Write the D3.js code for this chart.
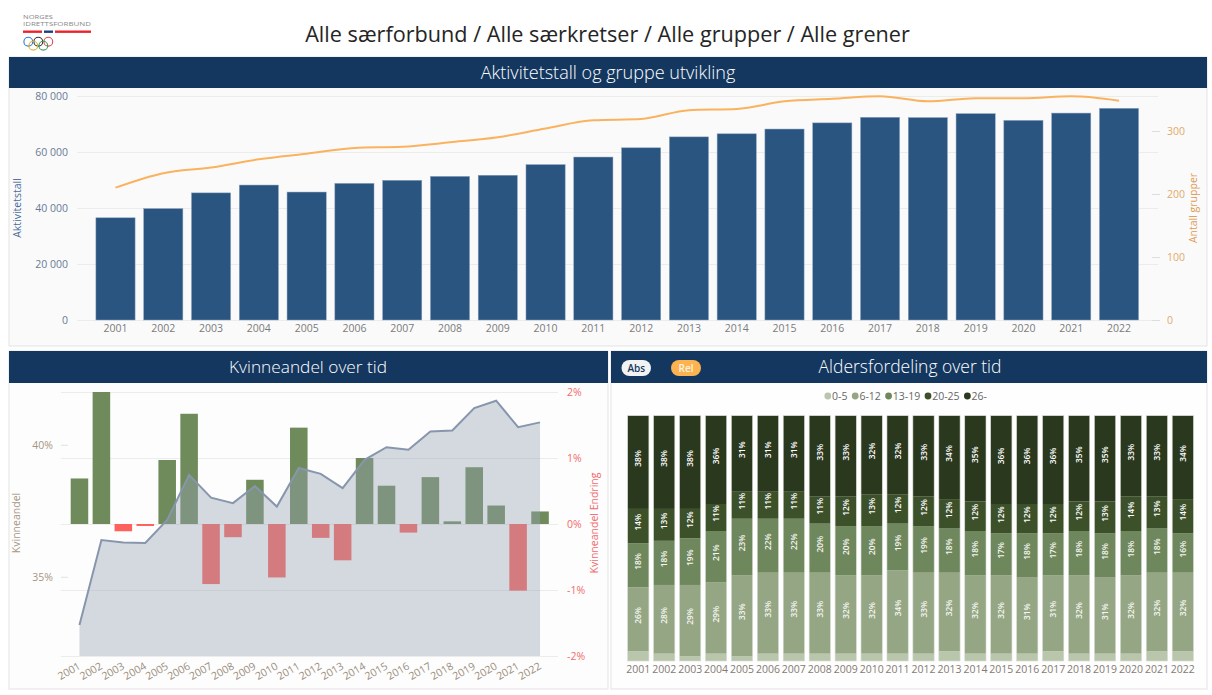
<!DOCTYPE html>
<html><head><meta charset="utf-8">
<script src="https://cdn.jsdelivr.net/npm/d3@7"></script>
<style>
body{margin:0;background:#fff;}
svg{display:block;font-family:"Open Sans","Noto Sans",sans-serif;}
</style>
</head><body>
<svg id="c" width="1212" height="695"></svg>
<script>
// ---------------- DATA ----------------
const years = ["2001","2002","2003","2004","2005","2006","2007","2008","2009","2010","2011",
               "2012","2013","2014","2015","2016","2017","2018","2019","2020","2021","2022"];
const aktivitetstall = [36500,39800,45400,48200,45700,48800,49900,51300,51700,55500,58200,
                        61500,65400,66500,68200,70400,72400,72300,73700,71300,73900,75600];
const antallGrupper = [210,233,242,255,264,273,275,282,290,304,317,
                       319,333,335,347,351,355,347,352,352,355,348];
const aktTicks = [0,20000,40000,60000,80000];
const grpTicks = [0,100,200,300];

const kvinneandel = [33.17,36.39,36.30,36.28,37.15,38.86,38.00,37.79,38.44,37.66,39.12,
                     38.90,38.36,39.43,39.91,39.81,40.50,40.54,41.39,41.67,40.67,40.85];
const kvinneEndring = [0.69,2.00,-0.11,-0.03,0.97,1.67,-0.91,-0.20,0.67,-0.81,1.46,
                       -0.21,-0.55,1.00,0.58,-0.13,0.71,0.04,0.86,0.28,-1.01,0.19];
const kvTicks = [35,40];
const endTicks = [-2,-1,0,1,2];

const ageGroups = ["0-5","6-12","13-19","20-25","26-"];
const age0_5   = [4,3,2,3,2,3,3,3,3,3,3,3,4,3,3,3,4,3,3,3,4,4];
const age6_12  = [26,28,29,29,33,33,33,33,32,32,34,33,32,32,32,31,31,32,31,32,32,32];
const age13_19 = [18,18,19,21,23,22,22,20,20,20,19,19,18,18,17,18,17,18,18,18,18,16];
const age20_25 = [14,13,12,11,11,11,11,11,12,13,12,12,12,12,12,12,12,12,13,14,13,14];
const age26    = [38,38,38,36,31,31,31,33,33,32,32,33,34,35,36,36,36,35,35,33,33,34];
const ageColors = ["#b9c6ac","#94a684","#6f875c","#3c502a","#2a381e"];

// ---------------- SETUP ----------------
const svg = d3.select("#c");
const NAVY = "#14375f";
const fmtNo = d3.formatLocale({decimal:",",thousands:" ",grouping:[3],currency:["","kr"]}).format(",");

function fit(sel, target){
  const L = sel.node().getComputedTextLength();
  const fs = parseFloat(sel.attr("font-size"));
  sel.attr("font-size", fs*target/L);
}

// ---------------- LOGO ----------------
const logo = svg.append("g");
logo.append("text").attr("x",23).attr("y",19.3).attr("font-size",5.4).attr("fill","#8a8a8a").text("NORGES")
  .attr("textLength",30).attr("lengthAdjust","spacingAndGlyphs");
logo.append("text").attr("x",23).attr("y",26).attr("font-size",5.4).attr("fill","#8a8a8a").text("IDRETTSFORBUND")
  .attr("textLength",68).attr("lengthAdjust","spacingAndGlyphs");
logo.append("rect").attr("x",23).attr("y",30.5).attr("width",19).attr("height",2.4).attr("fill","#e8252e");
logo.append("rect").attr("x",44).attr("y",30.5).attr("width",9).attr("height",2.4).attr("fill","#1e3f7a");
logo.append("rect").attr("x",55).attr("y",30.5).attr("width",36).attr("height",2.4).attr("fill","#e8252e");
[[28.3,41.7,"#2f7bd1"],[38.3,41.7,"#333"],[48.3,41.7,"#e04a5a"],[33.3,45.7,"#e0b040"],[43.3,45.7,"#3aa05a"]]
  .forEach(([cx,cy,c])=>logo.append("circle").attr("cx",cx).attr("cy",cy).attr("r",4.4)
    .attr("fill","none").attr("stroke",c).attr("stroke-width",1.1));

// main title
svg.append("text").attr("x",607.5).attr("y",42).attr("text-anchor","middle")
  .attr("font-size",22).attr("fill","#252525").text("Alle særforbund / Alle særkretser / Alle grupper / Alle grener")
  .call(s=>fit(s,605));

// ---------------- PANELS ----------------
function panel(x,y,w,hh,h,title,tx,tw,bodyFill){
  svg.append("rect").attr("x",x).attr("y",y).attr("width",w).attr("height",h)
    .attr("fill",bodyFill).attr("stroke","#e3e3e3").attr("stroke-width",1);
  svg.append("rect").attr("x",x).attr("y",y).attr("width",w).attr("height",hh).attr("fill",NAVY);
  svg.append("text").attr("x",tx).attr("y",y+hh/2+6).attr("text-anchor","middle")
    .attr("font-size",17).attr("font-weight",300).attr("fill","#ffffff").text(title).call(s=>fit(s,tw));
}
panel(9,57,1198,31,289,"Aktivitetstall og gruppe utvikling",608,255,"#fafafa");
panel(9,351,599,32,338,"Kvinneandel over tid",308,158,"#fdfdfd");
panel(611,351,596,32,338,"Aldersfordeling over tid",910,183,"#fefefe");

// ---------------- TOP CHART ----------------
{
  const x = d3.scaleBand().domain(years).range([91.6,1142.9]).paddingInner(0.18).paddingOuter(0.09);
  const yL = d3.scaleLinear().domain([0,80000]).range([320,96]);
  const yR = d3.scaleLinear().domain([0,355.5]).range([320,96]);
  const g = svg.append("g");

  const ax = g.append("g").attr("transform","translate(77,0)")
    .call(d3.axisLeft(yL).tickValues(aktTicks).tickSize(-(1158-77)).tickPadding(9).tickFormat(fmtNo));
  ax.select(".domain").remove();
  ax.selectAll("line").attr("stroke","#ececec");
  ax.selectAll("text").attr("fill","#6a7a98").attr("font-size",10.5).attr("font-family","Open Sans");

  const ar = g.append("g").attr("transform","translate(1152,0)")
    .call(d3.axisRight(yR).tickValues(grpTicks).tickSize(8).tickPadding(7));
  ar.select(".domain").remove();
  ar.selectAll("line").attr("stroke","#dddddd");
  ar.selectAll("text").attr("fill","#e2aa6a").attr("font-size",10.5).attr("font-family","Open Sans");

  g.selectAll("rect.bar").data(aktivitetstall).join("rect").attr("class","bar")
    .attr("x",(d,i)=>x(years[i])).attr("width",x.bandwidth())
    .attr("y",d=>yL(d)).attr("height",d=>yL(0)-yL(d))
    .attr("fill","#2b5581").attr("stroke","#8ea4be").attr("stroke-width",0.5);

  const line = d3.line().x((d,i)=>x(years[i])+x.bandwidth()/2).y(d=>yR(d)).curve(d3.curveMonotoneX);
  g.append("path").datum(antallGrupper).attr("d",line).attr("fill","none")
    .attr("stroke","#fbb25e").attr("stroke-width",2);

  const axb = g.append("g").attr("transform","translate(0,320)")
    .call(d3.axisBottom(x).tickSize(0).tickPadding(5));
  axb.select(".domain").remove();
  axb.selectAll("text").attr("fill","#7a7a7a").attr("font-size",10.5).attr("font-family","Open Sans");

  g.append("text").attr("transform","translate(21,208) rotate(-90)").attr("text-anchor","middle")
    .attr("font-size",10.5).attr("fill","#4a6a9a").text("Aktivitetstall");
  g.append("text").attr("transform","translate(1197,208) rotate(-90)").attr("text-anchor","middle")
    .attr("font-size",10.5).attr("fill","#e09a55").text("Antall grupper");
}

// ---------------- BOTTOM LEFT ----------------
{
  const x = d3.scaleBand().domain(years).range([68.5,551]).paddingInner(0.2).paddingOuter(0.1);
  const yL = d3.scaleLinear().domain([32,42]).range([656,392]);
  const yR = d3.scaleLinear().domain([-2,2]).range([656,392]);
  const g = svg.append("g");

  const ar = g.append("g").attr("transform","translate(558,0)")
    .call(d3.axisRight(yR).tickValues(endTicks).tickSize(-(558-61)).tickPadding(9).tickFormat(d=>d+"%"));
  ar.select(".domain").remove();
  ar.selectAll("line").attr("stroke","#ececec");
  ar.selectAll("text").attr("fill","#f26a6a").attr("font-size",10.5).attr("font-family","Open Sans");

  const al = g.append("g").attr("transform","translate(68,0)")
    .call(d3.axisLeft(yL).tickValues(kvTicks).tickSize(7).tickPadding(8).tickFormat(d=>d+"%"));
  al.select(".domain").remove();
  al.selectAll("line").attr("stroke","#e2e2e2");
  al.selectAll("text").attr("fill","#a69684").attr("font-size",10.5).attr("font-family","Open Sans");

  g.selectAll("rect.bar").data(kvinneEndring).join("rect").attr("class","bar")
    .attr("x",(d,i)=>x(years[i])).attr("width",x.bandwidth())
    .attr("y",d=>yR(Math.max(0,d))).attr("height",d=>Math.abs(yR(d)-yR(0)))
    .attr("fill",d=>d>=0?"#6f8b5b":"#fd625e");

  const cx = (d,i)=>x(years[i])+x.bandwidth()/2;
  const area = d3.area().x(cx).y0(yL(32)).y1(d=>yL(d));
  g.append("path").datum(kvinneandel).attr("d",area).attr("fill","rgb(150,162,180)").attr("fill-opacity",0.4);
  const line = d3.line().x(cx).y(d=>yL(d));
  g.append("path").datum(kvinneandel).attr("d",line).attr("fill","none")
    .attr("stroke","#8796ac").attr("stroke-width",2);

  const axb = g.append("g").attr("transform","translate(0,656)")
    .call(d3.axisBottom(x).tickSize(0).tickPadding(0));
  axb.select(".domain").remove();
  axb.selectAll("text").attr("fill","#9a8c7c").attr("font-size",10.5).attr("font-family","Open Sans")
    .attr("text-anchor","end").attr("y",0).attr("dy","0.35em")
    .attr("transform","translate(0,9) rotate(-30)");

  g.append("text").attr("transform","translate(20,523) rotate(-90)").attr("text-anchor","middle")
    .attr("font-size",10.5).attr("fill","#a69684").text("Kvinneandel");
  g.append("text").attr("transform","translate(598,523) rotate(-90)").attr("text-anchor","middle")
    .attr("font-size",10.5).attr("fill","#f26a6a").text("Kvinneandel Endring");
}

// ---------------- BOTTOM RIGHT ----------------
{
  const g = svg.append("g");
  // toggle buttons
  g.append("rect").attr("x",621.5).attr("y",360).attr("width",29.5).attr("height",16).attr("rx",8)
    .attr("fill","#f2f2f2");
  g.append("text").attr("x",636.3).attr("y",371.8).attr("text-anchor","middle").attr("font-size",10)
    .attr("font-weight",600).attr("fill",NAVY).text("Abs");
  g.append("rect").attr("x",671).attr("y",360).attr("width",30).attr("height",16).attr("rx",8)
    .attr("fill","#fdb34f");
  g.append("text").attr("x",686).attr("y",371.8).attr("text-anchor","middle").attr("font-size",10)
    .attr("font-weight",600).attr("fill","#fff3e0").text("Rel");

  // legend
  const lg = g.append("g");
  let lx = 0;
  ageGroups.forEach((name,k)=>{
    lg.append("circle").attr("cx",lx+3.3).attr("cy",0).attr("r",3.4).attr("fill",ageColors[k]);
    const t = lg.append("text").attr("x",lx+7.5).attr("y",3.8).attr("font-size",10.5).attr("fill","#666")
      .text(name);
    lx += 7.5 + t.node().getComputedTextLength() + 4.5;
  });
  lg.attr("transform",`translate(${908 - lx/2},396)`);

  const series = [age0_5,age6_12,age13_19,age20_25,age26];
  const rows = years.map((y,i)=>{
    const r = {year:y};
    ageGroups.forEach((a,k)=>r[a]=series[k][i]);
    return r;
  });
  const stack = d3.stack().keys(ageGroups).offset(d3.stackOffsetExpand);
  const layers = stack(rows);

  const x = d3.scaleBand().domain(years).range([625.3,1195.8]).paddingInner(0.18).paddingOuter(0.09);
  const y = d3.scaleLinear().domain([0,1]).range([661,415.7]);

  layers.forEach((layer,k)=>{
    g.selectAll(null).data(layer).join("rect")
      .attr("x",d=>x(d.data.year)).attr("width",x.bandwidth())
      .attr("y",d=>y(d[1])).attr("height",d=>y(d[0])-y(d[1]))
      .attr("fill",ageColors[k]);
  });
  // outline
  g.selectAll(null).data(years).join("rect")
    .attr("x",d=>x(d)).attr("width",x.bandwidth()).attr("y",y(1)).attr("height",y(0)-y(1))
    .attr("fill","none").attr("stroke","#d8dcd4").attr("stroke-width",0.6);

  layers.forEach((layer,k)=>{
    if(k===0) return;
    g.selectAll(null).data(layer).join("text")
      .attr("transform",d=>`translate(${x(d.data.year)+x.bandwidth()/2+3},${(y(d[0])+y(d[1]))/2-4}) rotate(-90)`)
      .attr("text-anchor","middle").attr("font-size",8.3).attr("font-weight",600)
      .attr("fill",k>=3?"#ffffff":"#f4f6f0")
      .text(d=>d.data[ageGroups[k]]+"%");
  });

  const axb = g.append("g").attr("transform","translate(0,661)")
    .call(d3.axisBottom(x).tickSize(0).tickPadding(5));
  axb.select(".domain").remove();
  axb.selectAll("text").attr("fill","#857a72").attr("font-size",10.5).attr("font-family","Open Sans");
}
</script>
</body></html>
